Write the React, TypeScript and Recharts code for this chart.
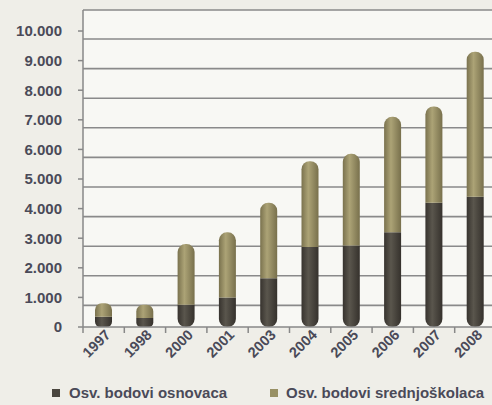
import React from 'react';
import { BarChart, Bar, XAxis, YAxis, CartesianGrid } from 'recharts';

const years = ['1997', '1998', '2000', '2001', '2003', '2004', '2005', '2006', '2007', '2008'];
const osnovaca = [350, 300, 750, 1000, 1650, 2700, 2750, 3200, 4200, 4400];
const srednjoskolaca = [450, 450, 2050, 2200, 2550, 2900, 3100, 3900, 3250, 4900];
const seriesNames = ['Osv. bodovi osnovaca', 'Osv. bodovi srednjoškolaca'];
const yTicks = [0, 1000, 2000, 3000, 4000, 5000, 6000, 7000, 8000, 9000, 10000];
const Y_MAX = 10710;

const data = years.map((y, i) => ({ year: y, osn: osnovaca[i], sre: srednjoskolaca[i] }));

const TEXT = '#4a4a58';
const DARK = '#4a463f';
const OLIVE = '#989064';

const fmt = (v: number) => (v === 0 ? '0' : `${v / 1000}.000`);

const XTick = (props: any) => {
  const { x, y, payload } = props;
  return (
    <g transform={`translate(${x},${y})`}>
      <line x1={-20.65} y1={-8} x2={-20.65} y2={-2} stroke="#888" strokeWidth={1.5} />
      <text
        x={0}
        y={0}
        dy={6}
        dx={5}
        transform="rotate(-45)"
        textAnchor="end"
        fill={TEXT}
        fontSize={14.5}
        fontWeight="bold"
        fontFamily="Liberation Sans, Arial, sans-serif"
      >
        {payload.value}
      </text>
    </g>
  );
};

const gridGen = (props: any) => {
  const { offset } = props;
  const lines = yTicks
    .filter((v) => v > 0)
    .map((v) => offset.top + offset.height * (1 - v / Y_MAX) + 8);
  return [offset.top, ...lines];
};

export default function App() {
  return (
    <div
      style={{
        position: 'absolute',
        left: 0,
        top: 0,
        width: 492,
        height: 405,
        overflow: 'hidden',
        background: '#efeee8',
        fontFamily: 'Liberation Sans, Arial, sans-serif',
      }}
    >
      <BarChart
        width={500}
        height={405}
        data={data}
        margin={{ top: 10, right: 4, left: 0, bottom: 18 }}
        barCategoryGap={0}
      >
        <defs>
          <linearGradient id="gDark" x1="0" y1="0" x2="1" y2="0">
            <stop offset="0%" stopColor="#37332e" />
            <stop offset="40%" stopColor="#5a564d" />
            <stop offset="100%" stopColor="#35312c" />
          </linearGradient>
          <linearGradient id="gOlive" x1="0" y1="0" x2="1" y2="0">
            <stop offset="0%" stopColor="#7a724e" />
            <stop offset="40%" stopColor="#aca376" />
            <stop offset="100%" stopColor="#78704c" />
          </linearGradient>
        </defs>
        <CartesianGrid
          vertical={false}
          stroke="#8a8a8a"
          strokeWidth={1.6}
          fill="#f8f8f4"
          horizontalCoordinatesGenerator={gridGen}
        />
        <XAxis
          dataKey="year"
          interval={0}
          height={60}
          tickLine={false}
          axisLine={{ stroke: '#888', strokeWidth: 1.5 }}
          tick={<XTick />}
        />
        <YAxis
          width={83}
          domain={[0, Y_MAX]}
          ticks={yTicks}
          tickFormatter={fmt}
          tickSize={5}
          tickMargin={16}
          axisLine={{ stroke: '#888', strokeWidth: 1.5 }}
          tickLine={{ stroke: '#888', strokeWidth: 1.5 }}
          tick={{ fill: TEXT, fontSize: 15, fontWeight: 'bold', fontFamily: 'Liberation Sans, Arial, sans-serif' }}
        />
        <Bar
          dataKey="osn"
          name={seriesNames[0]}
          stackId="a"
          barSize={17}
          fill="url(#gDark)"
          radius={[0, 0, 8, 8]}
          isAnimationActive={false}
        />
        <Bar
          dataKey="sre"
          name={seriesNames[1]}
          stackId="a"
          barSize={17}
          fill="url(#gOlive)"
          radius={[8, 8, 0, 0]}
          isAnimationActive={false}
        />
      </BarChart>
      <div style={{ position: 'absolute', left: 52, top: 384, display: 'flex', alignItems: 'center' }}>
        <span style={{ width: 8, height: 8, background: DARK, display: 'inline-block', marginRight: 9 }} />
        <span style={{ color: TEXT, fontSize: 15, fontWeight: 'bold' }}>{seriesNames[0]}</span>
      </div>
      <div style={{ position: 'absolute', left: 270, top: 384, display: 'flex', alignItems: 'center', whiteSpace: 'nowrap' }}>
        <span style={{ width: 8, height: 8, background: OLIVE, display: 'inline-block', marginRight: 8 }} />
        <span style={{ color: TEXT, fontSize: 15, fontWeight: 'bold' }}>{seriesNames[1]}</span>
      </div>
    </div>
  );
}
